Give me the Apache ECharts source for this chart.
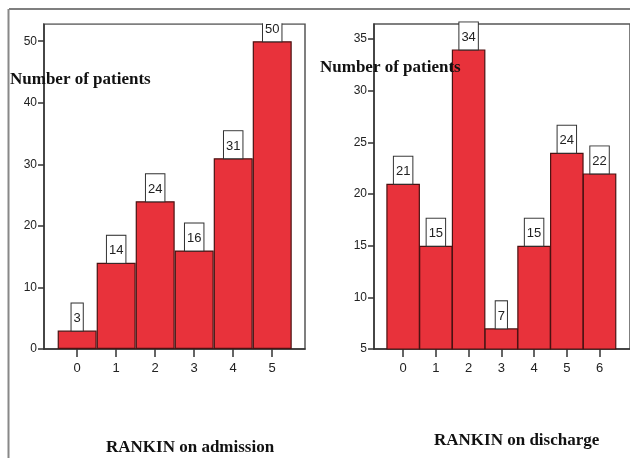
<!DOCTYPE html>
<html>
<head>
<meta charset="utf-8">
<script src="https://cdn.jsdelivr.net/npm/echarts@6/dist/echarts.min.js"></script>
<style>html,body{margin:0;padding:0;background:#fff;}#c{width:630px;height:458px;}</style>
</head>
<body>
<div id="c"></div>
<script>
// Data
const admissionCategories = [0, 1, 2, 3, 4, 5];
const admissionCounts = [3, 14, 24, 16, 31, 50];
const dischargeCategories = [0, 1, 2, 3, 4, 5, 6];
const dischargeCounts = [21, 15, 34, 7, 15, 24, 22];
const admissionYTicks = [0, 10, 20, 30, 40, 50];
const dischargeYTicks = [5, 10, 15, 20, 25, 30, 35];
const yTitle = 'Number of patients';
const admissionTitle = 'RANKIN on admission';
const dischargeTitle = 'RANKIN on discharge';

const SANS = '"Liberation Sans", Arial, sans-serif';
const SERIF = '"Liberation Serif", "Times New Roman", serif';
const BAR_COLOR = '#e8323b';
const BAR_BORDER = '#4a1212';

function xAxisFor(idx, cats, min, max) {
  return {
    type: 'value', gridIndex: idx, min: min, max: max,
    splitLine: {show: false},
    axisLine: {show: true, onZero: false, lineStyle: {color: '#333', width: 1.5}},
    axisTick: {show: true, customValues: cats, length: 8, lineStyle: {color: '#333', width: 1.5}},
    axisLabel: {customValues: cats, margin: 13, fontFamily: SANS, fontSize: 13, color: '#222'}
  };
}
function yAxisFor(idx, min, max, ticks) {
  return {
    type: 'value', gridIndex: idx, min: min, max: max, interval: ticks[1] - ticks[0],
    splitLine: {show: false},
    axisLine: {show: true, onZero: false, lineStyle: {color: '#333', width: 1.5}},
    axisTick: {show: true, customValues: ticks, length: 6, lineStyle: {color: '#333', width: 1.5}},
    axisLabel: {customValues: ticks, margin: 7, fontFamily: SANS, fontSize: 12, color: '#222'}
  };
}
const labelStyle = {
  show: true, position: 'top', distance: 0,
  backgroundColor: '#fff', borderColor: '#333', borderWidth: 1,
  padding: [8, 2, 5, 2], lineHeight: 14,
  fontFamily: SANS, fontSize: 13, color: '#222'
};

const chart = echarts.init(document.getElementById('c'), null, {renderer: 'canvas'});
chart.setOption({
  backgroundColor: '#fff',
  animation: false,
  grid: [
    {left: 44, top: 24, width: 261, height: 325, show: true, borderColor: '#555', borderWidth: 1.5, backgroundColor: 'transparent'},
    {left: 374, top: 24, width: 262, height: 325, show: true, borderColor: '#555', borderWidth: 1.5, backgroundColor: 'transparent'}
  ],
  xAxis: [
    xAxisFor(0, admissionCategories, -0.85, 5.84),
    xAxisFor(1, dischargeCategories, -0.89, 6.93)
  ],
  yAxis: [
    yAxisFor(0, 0, 52.8, admissionYTicks),
    yAxisFor(1, 5, 36.46, dischargeYTicks)
  ],
  title: [
    {text: yTitle, left: 10, top: 71, padding: 0, textStyle: {fontFamily: SERIF, fontWeight: 'bold', fontSize: 17, color: '#111'}},
    {text: yTitle, left: 320, top: 59, padding: 0, textStyle: {fontFamily: SERIF, fontWeight: 'bold', fontSize: 17, color: '#111'}},
    {text: admissionTitle, left: 106, top: 439, padding: 0, textStyle: {fontFamily: SERIF, fontWeight: 'bold', fontSize: 17, color: '#111'}},
    {text: dischargeTitle, left: 434, top: 432, padding: 0, textStyle: {fontFamily: SERIF, fontWeight: 'bold', fontSize: 17, color: '#111'}}
  ],
  series: [
    {
      type: 'bar', xAxisIndex: 0, yAxisIndex: 0, barWidth: 39, clip: true,
      data: admissionCategories.map((c, i) => [c, admissionCounts[i]]),
      itemStyle: {color: BAR_COLOR, borderColor: BAR_BORDER, borderWidth: 1.2},
      label: labelStyle, z: 2
    },
    {
      type: 'bar', xAxisIndex: 1, yAxisIndex: 1, barWidth: 33.6, clip: true,
      data: dischargeCategories.map((c, i) => [c, dischargeCounts[i]]),
      itemStyle: {color: BAR_COLOR, borderColor: BAR_BORDER, borderWidth: 1.2},
      label: labelStyle, z: 2
    }
  ],
  graphic: [
    {type: 'rect', z: 100, shape: {x: 44, y: 10.5, width: 262, height: 12.7}, style: {fill: '#fff'}},
    {type: 'line', z: 101, shape: {x1: 9, y1: 9, x2: 630, y2: 9}, style: {stroke: '#555', lineWidth: 1.5}},
    {type: 'line', z: 101, shape: {x1: 8.5, y1: 9, x2: 8.5, y2: 458}, style: {stroke: '#888', lineWidth: 2}}
  ]
});
</script>
</body>
</html>
